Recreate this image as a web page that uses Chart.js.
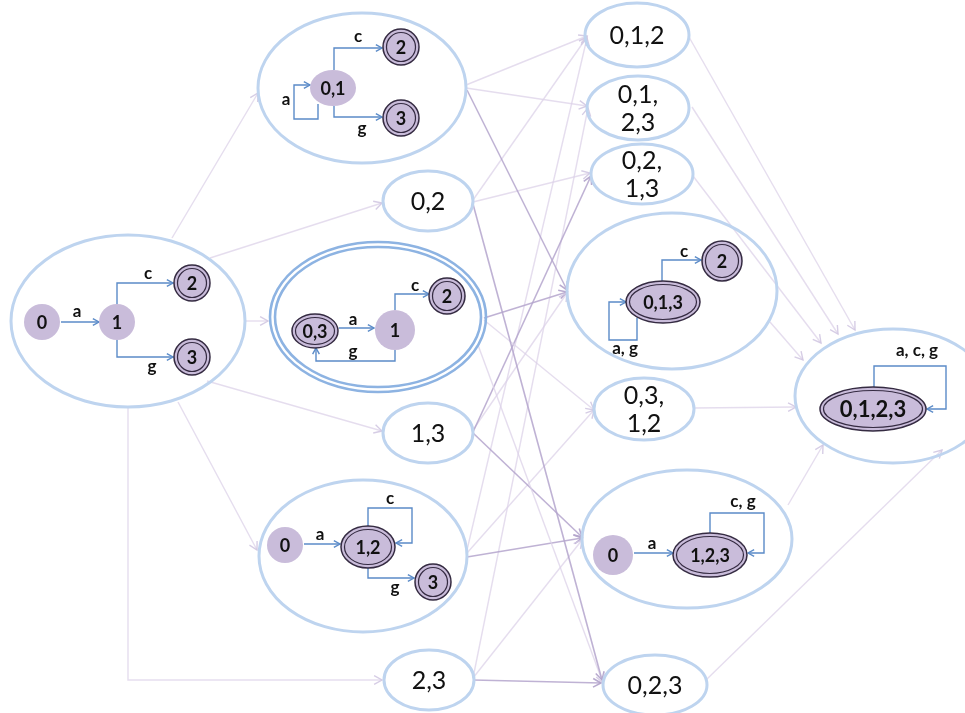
<!DOCTYPE html>
<html>
<head>
<meta charset="utf-8">
<script src="https://cdn.jsdelivr.net/npm/chart.js@4.4.0/dist/chart.umd.min.js"></script>
<style>
  html, body { margin: 0; padding: 0; background: #fff; }
  #wrap { width: 965px; height: 713px; position: relative; }
</style>
</head>
<body>
<div id="wrap"><canvas id="dfa"></canvas></div>
<script>
// ==== data: subset states (big ellipses holding a small automaton) ====
const groupNames = ['0', '0,1', '0,3', '1,2', '0,1,3', '1,2,3', '0,1,2,3'];
const groupX  = [128, 362, 378, 363, 672, 687, 893];
const groupY  = [321,  88, 317, 556, 291, 539, 396];
const groupRX = [117, 104, 108, 104, 105, 105,  98];
const groupRY = [ 86,  75,  75,  76,  78,  69,  67];
const groupDouble = ['0,3'];

// plain subset states (label only), '|' = line break
const setLabels = ['0,2', '1,3', '2,3', '0,1,2', '0,1,|2,3', '0,2,|1,3', '0,3,|1,2', '0,2,3'];
const setX  = [428, 428, 429, 637, 638, 642, 644, 655];
const setY  = [201, 433, 680,  35, 108, 174, 409, 685];
const setRX = [ 45,  45,  45,  52,  51,  51,  50,  52];
const setRY = [ 30,  30,  30,  32,  32,  30,  31,  30];

// inner automaton states
const nodeLabels = ['0','1','2','3', '0,1','2','3', '0,3','1','2', '0','1,2','3', '0,1,3','2', '0','1,2,3', '0,1,2,3'];
const nodeX  = [42, 117, 192, 192, 333, 401, 401, 315, 395, 447, 285, 368, 433, 663, 722, 613, 710, 873];
const nodeY  = [322, 322, 283, 357,  88,  47, 118, 331, 330, 296, 545, 547, 582, 302, 261, 555, 555, 409];
const nodeRX = [18, 18, 18, 18, 23, 18, 18, 23, 20, 18, 18, 27, 18, 37, 20, 20, 37, 53];
const nodeRY = [18, 18, 18, 18, 18, 18, 18, 17, 20, 18, 18, 21, 18, 21, 20, 20, 22, 22];
const nodeAccept = [0,0,1,1, 0,1,1, 1,0,1, 0,1,1, 1,1, 0,1, 1];

// inner transitions: symbol, route, label position
const moveSymbols = ['a','c','g', 'a','c','g', 'a','c','g', 'a','c','g', 'a, g','c', 'a','c, g', 'a, c, g'];
const movePaths = [
  [[61,322],[99,322]],
  [[117,304],[117,283],[173,283]],
  [[117,340],[117,357],[173,357]],
  [[318,104],[318,119],[294,119],[294,85],[310,85]],
  [[334,70],[334,48],[382,48]],
  [[334,106],[334,117],[382,117]],
  [[339,328],[374,328]],
  [[395,310],[395,294],[429,294]],
  [[395,350],[395,361],[316,361],[316,348]],
  [[304,544],[340,544]],
  [[368,526],[368,508],[412,508],[412,543],[396,543]],
  [[368,568],[368,578],[414,578]],
  [[637,318],[637,340],[609,340],[609,302],[626,302]],
  [[662,281],[662,260],[701,260]],
  [[634,553],[673,553]],
  [[710,533],[710,513],[764,513],[764,553],[748,553]],
  [[874,387],[874,366],[946,366],[946,409],[927,409]]
];
const moveLabelX = [77, 148, 152, 286, 358, 362, 353, 415, 353, 320, 390, 395, 625, 684, 652, 743, 917];
const moveLabelY = [312, 274, 367, 100, 37, 129, 320, 286, 352, 535, 499, 588, 349, 252, 544, 502, 351];

// connections between subset states
const edgePaths = [
  [[172,238],[258,93]],
  [[210,258],[382,203]],
  [[245,321],[268,321]],
  [[207,381],[382,431]],
  [[178,402],[257,550]],
  [[128,408],[128,680],[382,680]],
  [[466,85],[587,36]],
  [[466,88],[587,106]],
  [[467,90],[567,290]],
  [[473,200],[587,37]],
  [[473,202],[590,173]],
  [[473,204],[602,680]],
  [[484,318],[567,292]],
  [[484,320],[594,410]],
  [[478,345],[603,683]],
  [[473,432],[591,176]],
  [[473,430],[567,293]],
  [[473,433],[582,537]],
  [[467,550],[587,38]],
  [[467,553],[594,410]],
  [[467,557],[582,538]],
  [[473,678],[588,108]],
  [[473,678],[582,540]],
  [[473,680],[601,683]],
  [[689,37],[855,330]],
  [[692,107],[838,334]],
  [[693,176],[821,343]],
  [[770,322],[803,360]],
  [[694,408],[796,407]],
  [[788,505],[823,445]],
  [[706,680],[942,450]]
];
const strongEdges = [8, 11, 12, 15, 17, 20, 23];

// ==== helpers ====
const FONT = 'Lato, "Open Sans", "DejaVu Sans", sans-serif';
const toPts = (path) => path.map(([x, y]) => ({ x, y }));

const datasets = [];
edgePaths.forEach((p, i) => {
  const strong = strongEdges.includes(i);
  datasets.push({
    data: toPts(p), showLine: true, pointRadius: 0, tension: 0,
    borderColor: strong ? 'rgba(180,165,204,0.85)' : 'rgba(220,210,232,0.75)',
    borderWidth: strong ? 1.6 : 1.4,
    arrow: strong ? 'rgba(180,165,204,0.95)' : 'rgba(210,200,226,0.9)', arrowSize: 9
  });
});
movePaths.forEach(p => {
  datasets.push({
    data: toPts(p), showLine: true, pointRadius: 0, tension: 0,
    borderColor: '#5b8bc8', borderWidth: 1.4, arrow: '#5b8bc8', arrowSize: 7
  });
});

function ell(ctx, cx, cy, rx, ry){ ctx.beginPath(); ctx.ellipse(cx, cy, rx, ry, 0, 0, Math.PI*2); }

const diagram = {
  id: 'diagram',
  afterDatasetsDraw(chart){
    const ctx = chart.ctx, sx = chart.scales.x, sy = chart.scales.y;
    const X = v => sx.getPixelForValue(v), Y = v => sy.getPixelForValue(v);
    const W = (c, r) => Math.abs(sx.getPixelForValue(c + r) - sx.getPixelForValue(c));
    const H = (c, r) => Math.abs(sy.getPixelForValue(c + r) - sy.getPixelForValue(c));
    ctx.save();

    // arrowheads (open chevrons) at the end of every line
    chart.data.datasets.forEach((ds, i) => {
      const pts = chart.getDatasetMeta(i).data;
      const a = pts[pts.length-2], b = pts[pts.length-1];
      const ang = Math.atan2(b.y - a.y, b.x - a.x), s = ds.arrowSize;
      ctx.strokeStyle = ds.arrow; ctx.lineWidth = ds.borderWidth;
      ctx.beginPath();
      ctx.moveTo(b.x - s*Math.cos(ang - 0.5), b.y - s*Math.sin(ang - 0.5));
      ctx.lineTo(b.x, b.y);
      ctx.lineTo(b.x - s*Math.cos(ang + 0.5), b.y - s*Math.sin(ang + 0.5));
      ctx.stroke();
    });

    // big group ellipses
    groupNames.forEach((n, i) => {
      const cx = X(groupX[i]), cy = Y(groupY[i]), rx = W(groupX[i], groupRX[i]), ry = H(groupY[i], groupRY[i]);
      if (groupDouble.includes(n)) {
        ctx.strokeStyle = '#8db3e2'; ctx.lineWidth = 2.6;
        ell(ctx, cx, cy, rx, ry); ctx.stroke();
        ell(ctx, cx, cy, rx - 5, ry - 5); ctx.stroke();
      } else {
        ctx.strokeStyle = '#bed4ef'; ctx.lineWidth = 3;
        ell(ctx, cx, cy, rx, ry); ctx.stroke();
      }
    });

    // plain set ellipses with labels
    ctx.textAlign = 'center'; ctx.textBaseline = 'middle';
    setLabels.forEach((lab, i) => {
      const cx = X(setX[i]), cy = Y(setY[i]);
      ctx.strokeStyle = '#bed4ef'; ctx.lineWidth = 3;
      ell(ctx, cx, cy, W(setX[i], setRX[i]), H(setY[i], setRY[i])); ctx.stroke();
      const lines = lab.split('|');
      ctx.fillStyle = '#111'; ctx.font = `25px ${FONT}`;
      lines.forEach((t, k) => ctx.fillText(t, cx, cy + (k - (lines.length-1)/2)*28 + 1));
    });

    // inner states
    nodeLabels.forEach((lab, i) => {
      const cx = X(nodeX[i]), cy = Y(nodeY[i]), rx = W(nodeX[i], nodeRX[i]), ry = H(nodeY[i], nodeRY[i]);
      ctx.fillStyle = '#c9bcda';
      ell(ctx, cx, cy, rx, ry); ctx.fill();
      if (nodeAccept[i]) {
        ctx.strokeStyle = '#352b42'; ctx.lineWidth = 1.5;
        ell(ctx, cx, cy, rx, ry); ctx.stroke();
        ctx.lineWidth = 1.2;
        ell(ctx, cx, cy, rx - 3.5, ry - 3.5); ctx.stroke();
      }
      ctx.fillStyle = '#111';
      ctx.font = `bold ${lab.length > 5 ? 22 : 18}px ${FONT}`;
      ctx.fillText(lab, cx, cy + 1);
    });

    // transition symbols
    ctx.font = `bold 17px ${FONT}`;
    moveSymbols.forEach((s, i) => ctx.fillText(s, X(moveLabelX[i]), Y(moveLabelY[i])));
    ctx.restore();
  }
};

new Chart(document.getElementById('dfa'), {
  type: 'scatter',
  data: { datasets },
  options: {
    responsive: true, maintainAspectRatio: false, animation: false,
    layout: { padding: 0 },
    plugins: { legend: { display: false }, tooltip: { enabled: false } },
    scales: {
      x: { type: 'linear', min: 0, max: 965, display: false },
      y: { type: 'linear', min: 0, max: 713, reverse: true, display: false }
    }
  },
  plugins: [diagram]
});
</script>
</body>
</html>
